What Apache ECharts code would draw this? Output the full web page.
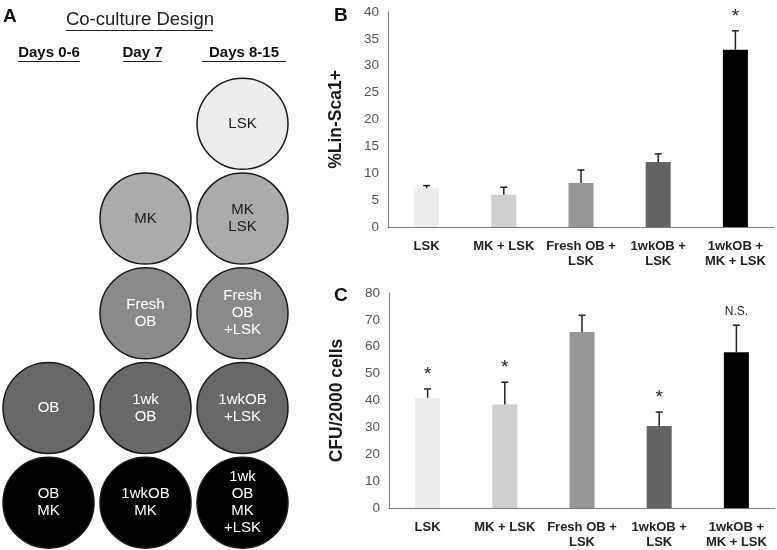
<!DOCTYPE html>
<html>
<head>
    <meta charset="utf-8">
    <script src="https://cdn.jsdelivr.net/npm/echarts@6/dist/echarts.min.js"></script>
    <style>
        html, body { margin: 0; padding: 0; background: #fff; }
        #chart { width: 777px; height: 550px; }
    </style>
</head>
<body>
<div id="chart"></div>
<script>
// panel A: co-culture design circles
var circleCol = [2, 1, 2, 1, 2, 0, 1, 2, 0, 1, 2];
var circleRow = [0, 1, 1, 2, 2, 3, 3, 3, 4, 4, 4];
var circleText = ['LSK', 'MK', 'MK\nLSK', 'Fresh\nOB', 'Fresh\nOB\n+LSK', 'OB', '1wk\nOB', '1wkOB\n+LSK', 'OB\nMK', '1wkOB\nMK', '1wk\nOB\nMK\n+LSK'];
var rowFill = ['#ececec', '#ababab', '#8a8a8a', '#686868', '#000000'];
var rowText = ['#1a1a1a', '#1a1a1a', '#ffffff', '#ffffff', '#ffffff'];
var dayTitles = ['Days 0-6', 'Day 7', 'Days 8-15'];

// panels B and C
var groups = ['LSK', 'MK + LSK', 'Fresh OB +\nLSK', '1wkOB +\nLSK', '1wkOB +\nMK + LSK'];
var barColors = ['#ededed', '#cfcfcf', '#969696', '#636363', '#000000'];
var linSca = [7.2, 6.0, 8.2, 12.1, 33.0];
var linScaErr = [0.5, 1.4, 2.4, 1.5, 3.5];
var linScaMark = ['', '', '', '', '*'];
var cfu = [41.0, 38.5, 65.5, 30.5, 58.0];
var cfuErr = [3.3, 8.3, 6.2, 5.2, 10.0];
var cfuMark = ['*', '*', '', '*', 'N.S.'];

var font = 'Liberation Sans, Arial, sans-serif';
var myChart = echarts.init(document.getElementById('chart'));

var circleData = circleCol.map(function (c, i) {
    var r = circleRow[i];
    return {
        value: [c, r],
        name: circleText[i],
        itemStyle: { color: rowFill[r] },
        label: { color: rowText[r] }
    };
});

function errorSeries(axisIdx, vals, errs, marks) {
    return {
        type: 'custom',
        xAxisIndex: axisIdx,
        yAxisIndex: axisIdx,
        z: 5,
        data: vals.map(function (v, i) { return [i, v, v + errs[i]]; }),
        renderItem: function (params, api) {
            var base = api.coord([api.value(0), api.value(1)]);
            var top = api.coord([api.value(0), api.value(2)]);
            var mark = marks[params.dataIndex];
            var kids = [
                { type: 'line', shape: { x1: top[0], y1: base[1], x2: top[0], y2: top[1] },
                  style: { stroke: '#222', lineWidth: 1.5 } },
                { type: 'line', shape: { x1: top[0] - 3.5, y1: top[1], x2: top[0] + 3.5, y2: top[1] },
                  style: { stroke: '#222', lineWidth: 1.5 } }
            ];
            if (mark) {
                kids.push({ type: 'text', x: top[0], y: top[1] - 14,
                    style: { text: mark, fill: '#222', align: 'center', verticalAlign: 'middle',
                             font: (mark === '*' ? '19px ' : '12px ') + font } });
            }
            return { type: 'group', children: kids };
        }
    };
}

function barAxisX(idx) {
    return {
        gridIndex: idx, type: 'category', data: groups,
        axisLine: { lineStyle: { color: '#7a7a7a', width: 1 } },
        axisTick: { show: false },
        axisLabel: { interval: 0, margin: 12, color: '#222', fontWeight: 'bold',
                     fontSize: 13, fontFamily: font, lineHeight: 15 }
    };
}

function barAxisY(idx, max, step, name) {
    return {
        gridIndex: idx, type: 'value', min: 0, max: max, interval: step,
        name: name, nameLocation: 'middle', nameGap: 43,
        nameTextStyle: { fontSize: 17.5, fontWeight: 'bold', color: '#1a1a1a', fontFamily: font },
        axisLine: { show: true, lineStyle: { color: '#7a7a7a', width: 1 } },
        axisTick: { show: false },
        splitLine: { show: false },
        axisLabel: { margin: 9, color: '#555', fontSize: 13.5, fontFamily: font }
    };
}

function underline(x1, x2, y) {
    return { type: 'line', shape: { x1: x1, y1: y, x2: x2, y2: y }, style: { stroke: '#222', lineWidth: 1 } };
}

var option = {
    animation: false,
    grid: [
        { left: 0, top: 76.5, width: 291, height: 475 },
        { left: 388, top: 12, width: 386, height: 215 },
        { left: 389, top: 293, width: 386, height: 216 }
    ],
    xAxis: [
        { gridIndex: 0, type: 'value', min: -0.5, max: 2.5, show: false },
        barAxisX(1),
        barAxisX(2)
    ],
    yAxis: [
        { gridIndex: 0, type: 'value', min: -0.5, max: 4.5, inverse: true, show: false },
        barAxisY(1, 40, 5, '%Lin-Sca1+'),
        barAxisY(2, 80, 10, 'CFU/2000 cells')
    ],
    graphic: [
        { type: 'text', left: 3, top: 7, style: { text: 'A', font: 'bold 19px ' + font, fill: '#111' } },
        { type: 'text', x: 140, y: 20, style: { text: 'Co-culture Design', font: '18.5px ' + font, fill: '#222', align: 'center', verticalAlign: 'middle' } },
        underline(66, 213, 30.5),
        { type: 'text', x: 49, y: 53, style: { text: dayTitles[0], font: 'bold 15px ' + font, fill: '#111', align: 'center', verticalAlign: 'middle' } },
        underline(18, 80, 61.5),
        { type: 'text', x: 142.5, y: 53, style: { text: dayTitles[1], font: 'bold 15px ' + font, fill: '#111', align: 'center', verticalAlign: 'middle' } },
        underline(123, 162, 61.5),
        { type: 'text', x: 244, y: 53, style: { text: dayTitles[2], font: 'bold 15px ' + font, fill: '#111', align: 'center', verticalAlign: 'middle' } },
        underline(202, 286, 61.5),
        { type: 'text', left: 334, top: 6, style: { text: 'B', font: 'bold 19px ' + font, fill: '#111' } },
        { type: 'text', left: 334, top: 286, style: { text: 'C', font: 'bold 19px ' + font, fill: '#111' } }
    ],
    series: [
        {
            type: 'scatter',
            xAxisIndex: 0, yAxisIndex: 0,
            symbol: 'circle', symbolSize: 91,
            itemStyle: { borderColor: '#1a1a1a', borderWidth: 1.5, opacity: 1 },
            label: { show: true, position: 'inside', formatter: '{b}', fontSize: 15,
                     lineHeight: 17, fontFamily: font },
            data: circleData
        },
        {
            type: 'bar', xAxisIndex: 1, yAxisIndex: 1, barWidth: 25,
            data: linSca.map(function (v, i) { return { value: v, itemStyle: { color: barColors[i] } }; })
        },
        errorSeries(1, linSca, linScaErr, linScaMark),
        {
            type: 'bar', xAxisIndex: 2, yAxisIndex: 2, barWidth: 25,
            data: cfu.map(function (v, i) { return { value: v, itemStyle: { color: barColors[i] } }; })
        },
        errorSeries(2, cfu, cfuErr, cfuMark)
    ]
};

myChart.setOption(option);
</script>
</body>
</html>
